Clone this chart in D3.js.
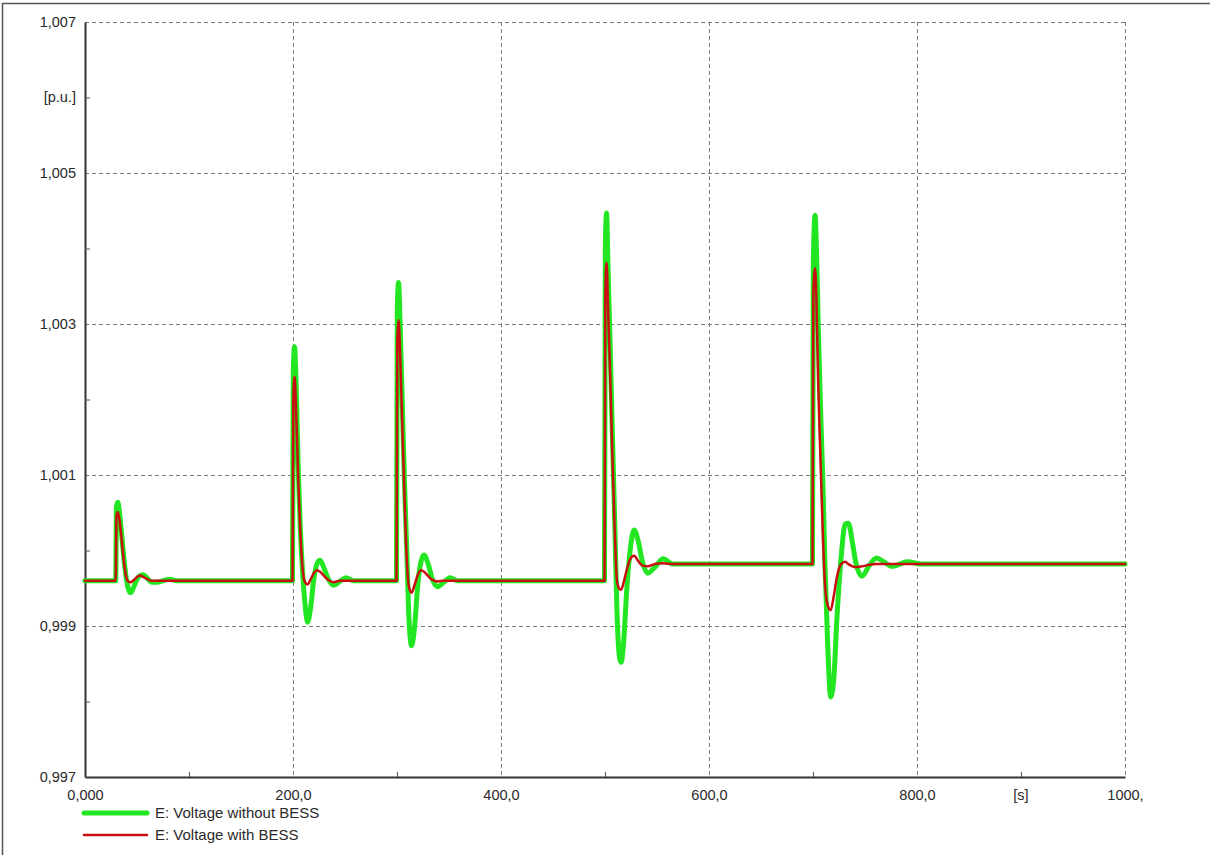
<!DOCTYPE html>
<html>
<head>
<meta charset="utf-8">
<script src="https://cdn.jsdelivr.net/npm/d3@7"></script>
<style>
  html, body { margin: 0; padding: 0; background: #fff; }
  svg { display: block; }
  text { font-family: "Liberation Sans", Arial, sans-serif; fill: #2a2a2a; }
</style>
</head>
<body>
<svg id="chart" width="1210" height="855"></svg>
<script>
// ---------- data ----------
const time = [
  0, 29.5,
  30.3, 31.5, 33, 35, 37, 39.5, 41.5, 44, 47, 50, 53, 56, 60, 64, 69, 75, 81, 88,
  199.5,
  200.3, 201.5, 203, 205, 207, 209.5, 211.5, 214, 217, 220, 223, 226, 230, 234, 239, 245, 251, 258,
  299.5,
  300.3, 301.5, 303, 305, 307, 309.5, 311.5, 314, 317, 320, 323, 326, 330, 334, 339, 345, 351, 358,
  499.5,
  500.3, 501.5, 503, 505, 507, 509.5, 511.5, 514, 515.5, 518, 521, 524, 528, 532, 536, 541, 548, 556, 565,
  699.5,
  700.3, 702, 703.5, 705, 707, 709.5, 711.5, 714, 717, 720, 723, 727, 731, 734, 738, 741, 747, 754, 761, 768, 776, 791, 805,
  1000
];
const voltageWithoutBESS = [
  0.99960, 0.99960,
  1.00058, 1.00064, 1.00052, 1.00025, 0.99995, 0.99965, 0.99950, 0.99944, 0.99952, 0.99962, 0.99967, 0.99968, 0.99963, 0.99958, 0.99958, 0.99960, 0.99962, 0.99960,
  0.99960,
  1.00240, 1.00270, 1.00220, 1.00110, 1.00030, 0.99965, 0.99930, 0.99905, 0.99925, 0.99962, 0.99982, 0.99987, 0.99976, 0.99962, 0.99954, 0.99959, 0.99964, 0.99960,
  0.99960,
  1.00320, 1.00355, 1.00300, 1.00200, 1.00100, 0.99995, 0.99910, 0.99874, 0.99900, 0.99955, 0.99985, 0.99994, 0.99982, 0.99962, 0.99952, 0.99958, 0.99964, 0.99960,
  0.99960,
  1.00400, 1.00447, 1.00370, 1.00270, 1.00160, 1.00030, 0.99920, 0.99858, 0.99852, 0.99880, 0.99950, 0.99998, 1.00027, 1.00012, 0.99985, 0.99970, 0.99978, 0.99989, 0.99982,
  0.99982,
  1.00380, 1.00444, 1.00390, 1.00300, 1.00200, 1.00090, 0.99982, 0.99880, 0.99806, 0.99830, 0.99910, 0.99990, 1.00035, 1.00036, 1.00010, 0.99985, 0.99966, 0.99980, 0.99990, 0.99985, 0.99979, 0.99985, 0.99982,
  0.99982
];
const voltageWithBESS = [
  0.99960, 0.99960,
  1.00046, 1.00051, 1.00042, 1.00018, 0.99990, 0.99966, 0.99959, 0.99958, 0.99961, 0.99965, 0.99967, 0.99965, 0.99962, 0.99960, 0.99960, 0.99960, 0.99960, 0.99960,
  0.99960,
  1.00200, 1.00230, 1.00185, 1.00095, 1.00025, 0.99972, 0.99958, 0.99955, 0.99962, 0.99970, 0.99974, 0.99972, 0.99966, 0.99961, 0.99958, 0.99960, 0.99960, 0.99960,
  0.99960,
  1.00280, 1.00305, 1.00260, 1.00170, 1.00080, 0.99985, 0.99952, 0.99944, 0.99955, 0.99968, 0.99974, 0.99972, 0.99966, 0.99961, 0.99959, 0.99960, 0.99960, 0.99960,
  0.99960,
  1.00340, 1.00381, 1.00320, 1.00230, 1.00130, 1.00020, 0.99960, 0.99949, 0.99948, 0.99958, 0.99975, 0.99988, 0.99993, 0.99986, 0.99980, 0.99979, 0.99982, 0.99983, 0.99982,
  0.99982,
  1.00340, 1.00374, 1.00320, 1.00220, 1.00130, 1.00020, 0.99955, 0.99928, 0.99921, 0.99940, 0.99965, 0.99982, 0.99985, 0.99982, 0.99979, 0.99978, 0.99979, 0.99981, 0.99982, 0.99982, 0.99982, 0.99982, 0.99982,
  0.99982
];
const yMajorTicks = [1.007, 1.005, 1.003, 1.001, 0.999, 0.997];
const yMajorLabels = ["1,007", "1,005", "1,003", "1,001", "0,999", "0,997"];
const yMinorTicks = [1.006, 1.004, 1.002, 1.000, 0.998];
const yUnit = "[p.u.]";
const xMajorTicks = [0, 200, 400, 600, 800, 1000];
const xMajorLabels = ["0,000", "200,0", "400,0", "600,0", "800,0", "1000,"];
const xMinorTicks = [100, 300, 500, 700, 900];
const xUnit = "[s]";
const seriesNames = ["E: Voltage without BESS", "E: Voltage with BESS"];
const seriesColors = ["#22e622", "#c81010"];

// ---------- layout ----------
const svg = d3.select("#chart");
const margin = { left: 85, top: 22, right: 1125, bottom: 777 };
const x = d3.scaleLinear().domain([0, 1000]).range([margin.left, margin.right]);
const y = d3.scaleLinear().domain([0.997, 1.007]).range([margin.bottom, margin.top]);

// outer frame
svg.append("rect").attr("x", 2.5).attr("y", 3.5).attr("width", 1300).attr("height", 900)
  .attr("fill", "none").attr("stroke", "#555").attr("stroke-width", 1.5);

// grid
const grid = svg.append("g").attr("stroke", "#7a7a7a").attr("stroke-width", 1)
  .attr("stroke-dasharray", "4,3").attr("fill", "none");
yMajorTicks.filter(v => v !== 0.997).forEach(v => {
  grid.append("line").attr("x1", x(0)).attr("x2", x(1000))
    .attr("y1", Math.round(y(v)) + 0.5).attr("y2", Math.round(y(v)) + 0.5);
});
xMajorTicks.filter(v => v !== 0).forEach(v => {
  grid.append("line").attr("y1", y(1.007)).attr("y2", y(0.997))
    .attr("x1", Math.round(x(v)) + 0.5).attr("x2", Math.round(x(v)) + 0.5);
});

// axes
const yAxis = d3.axisLeft(y).tickValues(yMajorTicks).tickSize(0).tickPadding(9)
  .tickFormat((d, i) => yMajorLabels[i]);
const gy = svg.append("g").attr("transform", `translate(${x(0)},0)`).call(yAxis);
gy.select(".domain").attr("stroke", "#333").attr("stroke-width", 2);
gy.selectAll("text").attr("font-size", 14.5).attr("fill", "#2a2a2a")
  .style("font-family", "'Liberation Sans', Arial, sans-serif");

const yMinor = d3.axisRight(y).tickValues(yMinorTicks).tickSize(5).tickFormat("");
const gym = svg.append("g").attr("transform", `translate(${x(0)},0)`).call(yMinor);
gym.select(".domain").remove();
gym.selectAll("line").attr("stroke", "#555");
gym.append("text").attr("x", -9).attr("y", y(yMinorTicks[0])).attr("dy", "0.32em")
  .attr("text-anchor", "end").attr("font-size", 14.5).attr("fill", "#2a2a2a").text(yUnit);

const xAxis = d3.axisBottom(x).tickValues(xMajorTicks).tickSize(0).tickPadding(13)
  .tickFormat((d, i) => xMajorLabels[i]);
const gx = svg.append("g").attr("transform", `translate(0,${y(0.997)})`).call(xAxis);
gx.select(".domain").attr("stroke", "#333").attr("stroke-width", 2);
gx.selectAll("text").attr("font-size", 14.5).attr("fill", "#2a2a2a")
  .style("font-family", "'Liberation Sans', Arial, sans-serif");

const xMinor = d3.axisTop(x).tickValues(xMinorTicks).tickSize(5).tickFormat("");
const gxm = svg.append("g").attr("transform", `translate(0,${y(0.997)})`).call(xMinor);
gxm.select(".domain").remove();
gxm.selectAll("line").attr("stroke", "#555");
gxm.append("text").attr("x", x(xMinorTicks[4])).attr("y", 13).attr("dy", "0.71em")
  .attr("text-anchor", "middle").attr("font-size", 14.5).attr("fill", "#2a2a2a").text(xUnit);

// lines
const seriesValues = [voltageWithoutBESS, voltageWithBESS];
const widths = [5, 2.5];
const line = d3.line().x(d => x(d[0])).y(d => y(d[1])).curve(d3.curveMonotoneX);
const plot = svg.append("g");
seriesValues.forEach((vals, i) => {
  const pts = time.map((t, k) => [t, vals[k]]);
  plot.append("path").datum(pts).attr("d", line)
    .attr("fill", "none").attr("stroke", seriesColors[i]).attr("stroke-width", widths[i])
    .attr("stroke-linejoin", "round").attr("stroke-linecap", "round");
});

// legend
const legend = svg.append("g");
const legendY = [813, 835];
seriesNames.forEach((name, i) => {
  legend.append("line").attr("x1", 84).attr("x2", 147).attr("y1", legendY[i]).attr("y2", legendY[i])
    .attr("stroke", seriesColors[i]).attr("stroke-width", i === 0 ? 5 : 2.5)
    .attr("stroke-linecap", "round");
  legend.append("text").attr("x", 155).attr("y", legendY[i]).attr("dy", "0.35em")
    .attr("font-size", 15).attr("fill", "#2a2a2a").text(name);
});
</script>
</body>
</html>
